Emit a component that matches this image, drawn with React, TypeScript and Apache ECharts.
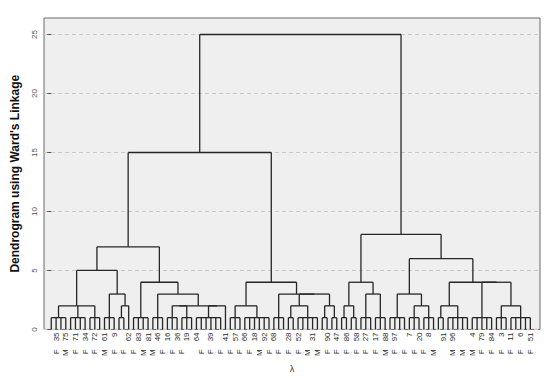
import React, { useEffect, useRef } from "react";
import * as echarts from "echarts";

// ---- data ----
// leaf labels (case ids), one entry per leaf in dendrogram order; '' = not printed
const leafIds: string[] = [
  "", "35", "", "75", "", "71", "", "34", "", "72",
  "", "61", "", "9", "", "", "62", "", "83", "",
  "81", "", "46", "", "16", "", "36", "", "19", "",
  "64", "", "", "39", "", "", "41", "", "57", "",
  "66", "", "18", "", "92", "", "68", "", "", "28",
  "", "52", "", "", "31", "", "", "90", "", "47",
  "", "86", "", "58", "", "27", "", "17", "", "88",
  "", "97", "", "", "7", "", "20", "", "8", "",
  "", "91", "", "96", "", "", "", "4", "", "79",
  "", "84", "", "3", "", "11", "", "6", "", "51",
];

// second label row (sex), one entry per leaf
const leafSex: string[] = [
  "", "F", "", "M", "", "F", "", "F", "", "F",
  "", "M", "", "F", "", "F", "", "F", "", "M",
  "", "M", "", "F", "", "F", "", "F", "", "",
  "", "F", "", "F", "", "F", "", "F", "", "F",
  "", "F", "", "M", "", "F", "", "F", "", "F",
  "", "F", "", "M", "", "M", "", "F", "", "F",
  "", "F", "", "F", "", "F", "", "F", "", "M",
  "", "F", "", "F", "", "F", "", "F", "", "M",
  "", "", "", "M", "", "M", "", "M", "", "F",
  "", "F", "", "F", "", "F", "", "F", "", "F",
];

// height at which the small groups of leaves join
const combHeight = 1.0;

// merge trees: [height, ...children]; a bare number n = group of n leaves joined at combHeight
const leftLeftA: any[] = [5.0, [2.0, 4, 4, 3], [3.0, 3, [2.0, 2, 1]]];
const leftLeftB: any[] = [4.0, 4, [3.0, 3, [2.0, [2.0, 3, 3], [2.0, 6, 1]]]];
const leftRight: any[] = [4.0, [2.0, 3, 6], [3.0, 3, [3.0, [2.0, 2, 5], [2.0, 2, 2]]]];
const rightLeft: any[] = [4.0, [2.0, 2, 2], [3.0, 3, 3]];
const rightRight: any[] = [6.0, [3.0, 4, [2.0, 3, 3]], [4.0, [2.0, 2, 5], [4.0, 5, [2.0, 3, 5]]]];
const upperMerges: number[] = [25.0, 15.0, 7.0, 8.05]; // root, left, left-left, right

const tree: any[] = [
  upperMerges[0],
  [upperMerges[1], [upperMerges[2], leftLeftA, leftLeftB], leftRight],
  [upperMerges[3], rightLeft, rightRight],
];

const yTicks = [0, 5, 10, 15, 20, 25];

function buildSegments(root: any[]): number[][] {
  const segs: number[][] = [];
  let cursor = 0;
  const walk = (node: any): { x: number; h: number } => {
    if (typeof node === "number") {
      const first = cursor;
      const last = cursor + node - 1;
      cursor += node;
      if (node === 1) return { x: first, h: 0 };
      for (let i = first; i <= last; i++) segs.push([i, 0, i, combHeight]);
      segs.push([first, combHeight, last, combHeight]);
      return { x: (first + last) / 2, h: combHeight };
    }
    const h = node[0];
    const kids = node.slice(1).map(walk);
    kids.forEach((k: any) => {
      if (k.h !== h) segs.push([k.x, k.h, k.x, h]);
    });
    const a = kids[0].x;
    const b = kids[kids.length - 1].x;
    segs.push([a, h, b, h]);
    return { x: (a + b) / 2, h };
  };
  walk(root);
  return segs;
}

export default function App() {
  const ref = useRef<HTMLDivElement>(null);
  useEffect(() => {
    if (!ref.current) return;
    const chart = echarts.init(ref.current, null, { renderer: "svg" });
    const segments = buildSegments(tree);
    const n = leafIds.length;
    const fontFamily = "'Liberation Sans', Arial, sans-serif";
    const xMin = -1.5;
    const xMax = n + 1;
    chart.setOption({
      animation: false,
      backgroundColor: "#ffffff",
      grid: {
        left: 44,
        right: 10,
        top: 18,
        bottom: 48,
        show: true,
        backgroundColor: "#efefef",
        borderColor: "#6a6a6a",
        borderWidth: 1,
      },
      xAxis: [
        {
          type: "value",
          min: xMin,
          max: xMax,
          interval: 0.5,
          position: "bottom",
          axisLine: { show: false },
          axisTick: { show: false },
          splitLine: { show: false },
          axisLabel: {
            rotate: 90,
            fontSize: 8,
            color: "#2a2a2a",
            margin: 3,
            fontFamily,
            showMinLabel: true,
            showMaxLabel: true,
            formatter: (v: number) =>
              Number.isInteger(v) && v >= 0 && v < n ? leafIds[v] : "",
          },
        },
        {
          type: "value",
          min: xMin,
          max: xMax,
          interval: 0.5,
          position: "bottom",
          offset: 17,
          axisLine: { show: false },
          axisTick: { show: false },
          splitLine: { show: false },
          name: "λ",
          nameLocation: "middle",
          nameGap: 16,
          nameTextStyle: { fontSize: 9, color: "#333", fontFamily },
          axisLabel: {
            rotate: 90,
            fontSize: 8,
            color: "#2a2a2a",
            margin: 3,
            fontFamily,
            formatter: (v: number) =>
              Number.isInteger(v) && v >= 0 && v < n ? leafSex[v] : "",
          },
        },
      ],
      yAxis: {
        type: "value",
        min: 0,
        max: 26.4,
        interval: 5,
        name: "Dendrogram using Ward's Linkage",
        nameLocation: "middle",
        nameRotate: 90,
        nameGap: 23,
        nameTextStyle: {
          fontSize: 12,
          fontWeight: "bold",
          color: "#111",
          fontFamily,
        },
        axisLine: { show: false },
        axisTick: {
          show: true,
          length: 4,
          lineStyle: { color: "#555" },
          customValues: yTicks,
        },
        axisLabel: {
          rotate: 90,
          fontSize: 8,
          color: "#555",
          margin: 6,
          fontFamily,
          customValues: yTicks,
        },
        splitLine: {
          show: true,
          lineStyle: { color: "#c9c9c9", type: [4, 3], width: 1 },
        },
      },
      series: [
        {
          type: "custom",
          xAxisIndex: 0,
          yAxisIndex: 0,
          encode: { x: [0, 2], y: [1, 3] },
          data: segments,
          renderItem: (params: any, api: any) => {
            const p1 = api.coord([api.value(0), api.value(1)]);
            const p2 = api.coord([api.value(2), api.value(3)]);
            return {
              type: "line",
              shape: { x1: p1[0], y1: p1[1], x2: p2[0], y2: p2[1] },
              style: { stroke: "#262626", lineWidth: 1.3 },
            };
          },
        },
      ],
    });
    return () => chart.dispose();
  }, []);
  return (
    <div
      ref={ref}
      style={{ position: "fixed", left: 0, top: 0, width: 550, height: 378 }}
    />
  );
}
